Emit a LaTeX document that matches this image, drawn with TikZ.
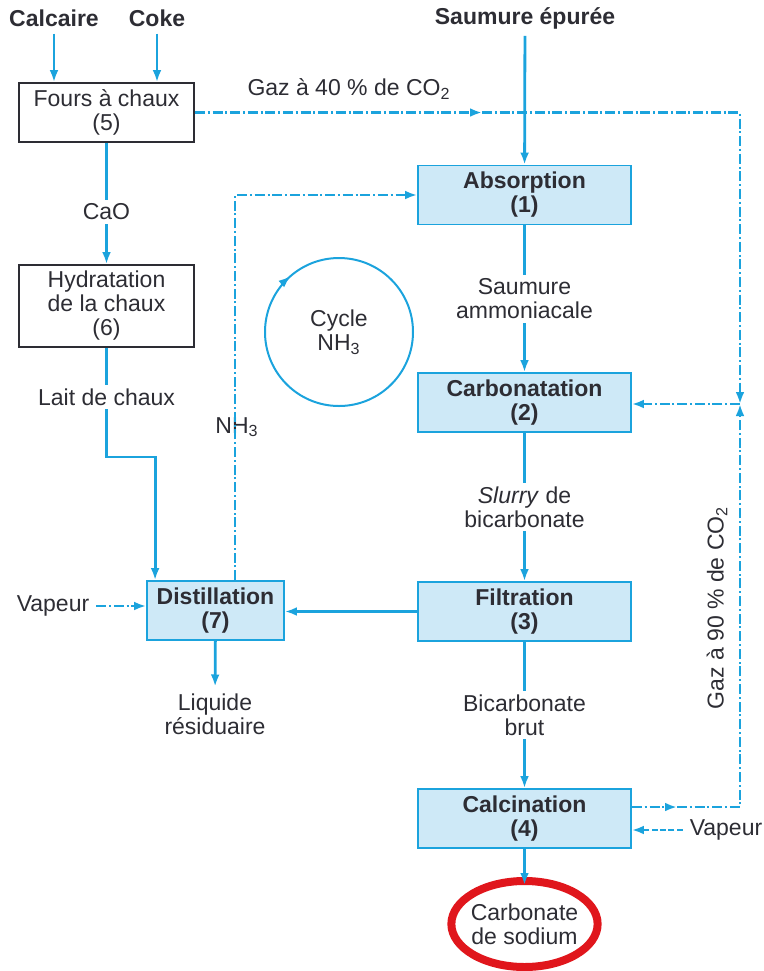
\documentclass[tikz,border=0pt]{standalone}
\usepackage{fontspec}
\setmainfont{Liberation Sans}
\usetikzlibrary{arrows.meta,shapes.geometric}
\definecolor{bleu}{RGB}{27,163,221}
\definecolor{fond}{RGB}{206,233,247}
\definecolor{encre}{RGB}{45,45,52}
\definecolor{rouge}{RGB}{224,22,28}
\tikzset{x=0.5pt,y=-0.5pt,
    every node/.style={text=encre,align=center,font=\fontsize{11.5}{12}\selectfont},
    titre/.style={font=\fontsize{11.5}{12}\selectfont\bfseries},
    four/.style={draw=encre,fill=white,line width=0.9pt,minimum width=87.5pt,minimum height=29.5pt,inner sep=1pt},
    etape/.style={draw=bleu,fill=fond,line width=0.9pt,minimum width=106.5pt,minimum height=29.5pt,inner sep=1pt,font=\fontsize{11.5}{12}\selectfont\bfseries},
    etiq/.style={fill=white,inner sep=2pt},
    flux/.style={draw=bleu,line width=1.4pt,-{Latex[length=6pt,width=4.4pt]}},
    gaz/.style={flux,dash pattern=on 5pt off 1.4pt on 1pt off 1.4pt},
    vapeurfl/.style={flux,dash pattern=on 3pt off 1.2pt},
    }

\begin{document}
\begin{tikzpicture}
\useasboundingbox (0,0) rectangle (764,971);

\node[titre] (calcaire) at (54,18) {Calcaire};
\node[titre] (coke) at (157,18) {Coke};
\node[titre] (saumure) at (525,18) {Saumure épurée};

\node[four] (fours) at (106.5,112.5) {Fours à chaux\\(5)};
\node[four,minimum height=41pt] (hydra) at (106.5,306) {Hydratation\\de la chaux\\(6)};

\node[etape] (absorp) at (524.5,195) {Absorption\\(1)};
\node[etape] (carbo) at (524.5,402.5) {Carbonatation\\(2)};
\node[etape] (filtr) at (524.5,611.5) {Filtration\\(3)};
\node[etape] (calci) at (524.5,818.5) {Calcination\\(4)};
\node[etape,minimum width=68.5pt] (distil) at (215.5,610.5) {Distillation\\(7)};
\node[ellipse,draw=rouge,line width=4pt,minimum height=43pt,inner xsep=-1pt,inner ysep=0pt] (soude) at (524.5,924) {Carbonate\\de sodium};

\node (cycle) at (339,332) {Cycle\\NH\textsubscript{3}};
\node (nh3) at (237,427) {NH\textsubscript{3}};
\node (liquide) at (215,714) {Liquide\\résiduaire};
\node (vapg) at (53,606) {Vapeur};
\node (vapd) at (726,830) {Vapeur};
\node (gaz40) at (349,89) {Gaz à 40 \% de CO\textsubscript{2}};
\node[rotate=90] (gaz90) at (717,608) {Gaz à 90 \% de CO\textsubscript{2}};

\coordinate (mi40) at (482,112.5);
\coordinate (coinhaut) at (740,112.5);
\coordinate (jonction) at (740,404);
\coordinate (mi90) at (677,807);
\coordinate (coinbas) at (740,807);
\coordinate (coude) at (106.5,457);

\draw[flux] (calcaire.south) -- (calcaire.south |- fours.north);
\draw[flux] (coke.south) -- (coke.south |- fours.north);
\draw[flux] (saumure) -- (absorp);

\draw[flux] (fours) -- node[etiq,pos=0.57] (cao) {CaO} (hydra);
\draw[flux] (hydra.south) -- node[etiq,pos=0.45] (lait) {Lait de chaux} (coude)
    -| ([xshift=4.5pt]distil.north west);

\draw[flux] (absorp) -- node[etiq] (ammo) {Saumure\\ammoniacale} (carbo);
\draw[flux] (carbo) -- node[etiq] (slurry) {\textit{Slurry} de\\bicarbonate} (filtr);
\draw[flux] (filtr) -- node[etiq] (brut) {Bicarbonate\\brut} (calci);
\draw[flux] (calci.south) -- ([yshift=-4pt]soude.north);

\draw[flux] (filtr.west) -- (filtr.west -| distil.east);
\draw[flux] (distil) -- (liquide);
\draw[gaz] (vapg.east) -- (vapg.east -| distil.west);
\draw[gaz] ([xshift=9.75pt]distil.north) |- (absorp.west);

\draw[gaz] (fours.east) -- (mi40);
\draw[gaz] (mi40) -- (coinhaut) -- (jonction);
\draw[gaz] (jonction) -- (jonction -| carbo.east);
\draw[gaz] (calci.east |- mi90) -- (mi90);
\draw[gaz] (mi90) -- (coinbas) -- (jonction);
\draw[vapeurfl] (vapd.west) -- (vapd.west -| calci.east);

\draw[draw=bleu,line width=1pt] (cycle.center) circle[radius=74];
\draw[flux,line width=1pt] (cycle.center) ++(220:74) arc[start angle=220,end angle=229,radius=74];
\end{tikzpicture}
\end{document}
